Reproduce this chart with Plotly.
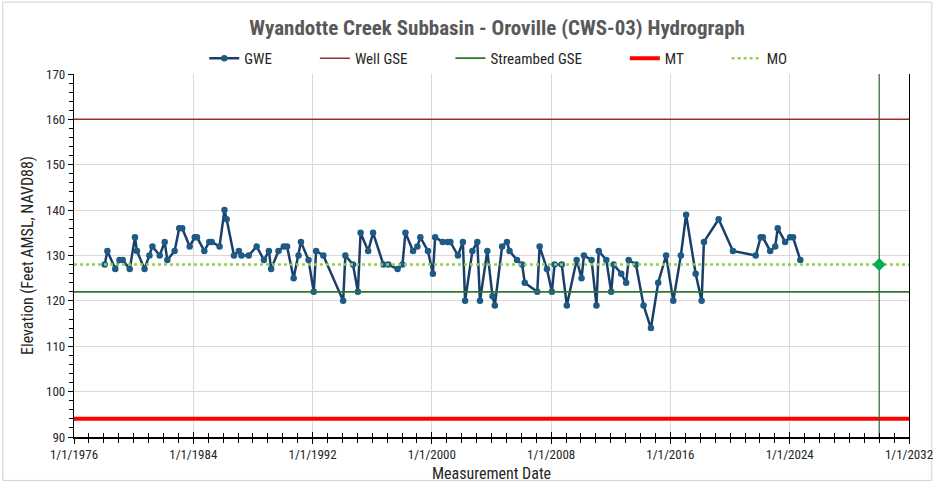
import plotly.graph_objects as go

# Groundwater elevation measurements (ft AMSL, NAVD88)
gwe_dates = [
    "1978-01-22", "1978-03-28", "1978-10-08", "1979-01-19", "1979-04-08", "1979-09-27",
    "1980-02-03", "1980-03-22", "1980-09-24", "1981-01-22", "1981-04-05", "1981-10-01",
    "1982-01-30", "1982-04-05", "1982-10-01", "1983-01-22", "1983-04-05", "1983-10-05",
    "1984-02-06", "1984-04-01", "1984-09-27", "1985-01-26", "1985-03-28", "1985-10-05",
    "1986-02-03", "1986-03-28", "1986-09-24", "1987-01-22", "1987-03-25", "1987-09-20",
    "1988-04-01", "1988-09-27", "1989-01-26", "1989-03-22", "1989-09-17", "1990-01-26",
    "1990-04-16", "1990-09-24", "1991-01-22", "1991-03-22", "1991-09-24", "1992-01-30",
    "1992-03-28", "1992-09-20", "1994-01-19", "1994-03-14", "1994-09-17", "1995-01-15",
    "1995-03-22", "1995-09-24", "1996-01-22", "1996-10-01", "1997-01-30", "1997-09-13",
    "1998-01-11", "1998-03-25", "1998-09-27", "1999-01-11", "1999-03-25", "1999-09-27",
    "2000-01-26", "2000-03-22", "2000-09-24", "2001-01-22", "2001-03-28", "2001-10-01",
    "2002-01-30", "2002-03-25", "2002-09-20", "2003-01-19", "2003-03-25", "2003-09-20",
    "2004-01-26", "2004-03-22", "2004-09-17", "2005-01-15", "2005-03-18", "2005-09-17",
    "2006-01-22", "2006-03-25", "2007-01-26", "2007-03-25", "2007-09-20", "2008-01-19",
    "2008-03-25", "2008-09-17", "2009-01-19", "2009-09-17", "2010-01-15", "2010-03-14",
    "2010-09-17", "2011-01-15", "2011-03-11", "2011-09-13", "2012-01-11", "2012-03-11",
    "2012-09-13", "2013-01-11", "2013-03-14", "2013-09-10", "2014-03-14", "2014-09-10",
    "2015-03-07", "2015-09-17", "2016-03-11", "2016-09-13", "2017-01-19", "2017-09-10",
    "2018-02-03", "2018-04-01", "2019-03-28", "2020-03-11", "2021-09-20", "2022-01-19",
    "2022-03-14", "2022-09-10", "2023-01-11", "2023-03-14", "2023-09-10", "2024-01-11",
    "2024-03-22", "2024-09-17",
]
gwe_values = [
    128, 131, 127, 129, 129, 127,
    134, 131, 127, 130, 132, 130,
    133, 129, 131, 136, 136, 132,
    134, 134, 131, 133, 133, 132,
    140, 138, 130, 131, 130, 130,
    132, 129, 131, 127, 131, 132,
    132, 125, 130, 133, 129, 122,
    131, 130, 120, 130, 128, 122,
    135, 131, 135, 128, 128, 127,
    128, 135, 131, 132, 134, 131,
    126, 134, 133, 133, 133, 130,
    133, 120, 131, 133, 120, 131,
    121, 119, 132, 133, 131, 129,
    128, 124, 122, 132, 127, 122,
    128, 128, 119, 129, 125, 130,
    129, 119, 131, 129, 122, 128,
    126, 124, 129, 128, 119, 114,
    124, 130, 120, 130, 139, 126,
    120, 133, 138, 131, 130, 134,
    134, 131, 132, 136, 133, 134,
    134, 129,
]

# Reference elevations (ft)
well_gse = 160
streambed_gse = 122
mt_level = 94
mo_level = 128
target_date = "2030-01-01"

x_start, x_end = "1976-01-01", "2032-01-01"
y_min, y_max = 90, 170

font_family = "Liberation Sans Narrow, Arial Narrow, Roboto Condensed, Roboto, Liberation Sans, sans-serif"
text_grey = "#595959"
pad = "\u00a0" * 11

fig = go.Figure()

fig.add_trace(go.Scatter(
    x=gwe_dates, y=gwe_values, mode="lines+markers",
    name="GWE" + pad,
    line=dict(color="#1b3f6b", width=2.5),
    marker=dict(color="#1d5a85", size=6.5),
))
fig.add_trace(go.Scatter(
    x=[x_start, x_end], y=[well_gse, well_gse], mode="lines",
    name="Well GSE" + pad,
    line=dict(color="#9b2c2c", width=1.5),
))
fig.add_trace(go.Scatter(
    x=[x_start, x_end], y=[streambed_gse, streambed_gse], mode="lines",
    name="Streambed GSE" + pad,
    line=dict(color="#2b7a2b", width=1.8),
))
fig.add_trace(go.Scatter(
    x=[x_start, x_end], y=[mt_level, mt_level], mode="lines",
    name="MT" + pad,
    line=dict(color="#ff0000", width=4),
))
fig.add_trace(go.Scatter(
    x=[x_start, x_end], y=[mo_level, mo_level], mode="lines",
    name="MO",
    line=dict(color="#92d050", width=2.5, dash="dot"),
))
# Target-year marker and vertical reference line
fig.add_trace(go.Scatter(
    x=[target_date, target_date], y=[y_min, y_max], mode="lines",
    line=dict(color="#2f5f2f", width=1.2), showlegend=False, hoverinfo="skip",
))
fig.add_trace(go.Scatter(
    x=[target_date], y=[mo_level], mode="markers",
    marker=dict(color="#00b050", symbol="diamond", size=10),
    showlegend=False,
))
# Invisible companion trace on the overlay axis that carries the inner tick marks
fig.add_trace(go.Scatter(
    x=[x_start, x_end], y=[y_min, y_min], mode="lines", xaxis="x2",
    line=dict(width=0), showlegend=False, hoverinfo="skip",
))

fig.update_layout(
    width=945, height=492,
    margin=dict(l=74, r=27, t=74, b=50),
    paper_bgcolor="white", plot_bgcolor="white",
    font=dict(family=font_family, size=13, color=text_grey),
    title=dict(
        text="<b>Wyandotte Creek Subbasin - Oroville (CWS-03) Hydrograph</b>",
        x=0.526, xanchor="center", y=1 - 28 / 492, yanchor="middle",
        font=dict(size=21, color=text_grey, family=font_family),
    ),
    legend=dict(
        orientation="h", x=0.156, xanchor="left", y=1.043, yanchor="middle",
        font=dict(size=15, color="#262626", family=font_family),
        bgcolor="rgba(0,0,0,0)", itemwidth=30,
    ),
    showlegend=True,
    shapes=[
        dict(type="rect", xref="paper", yref="paper",
             x0=-0.0853, x1=1.0273, y0=-0.1196, y1=1.198,
             line=dict(color="#d0d0d0", width=1), layer="below"),
    ],
    xaxis=dict(
        type="date", range=[x_start, x_end],
        dtick="M96", tick0="1976-01-01", tickformat="%-m/%-d/%Y",
        showgrid=True, gridcolor="#d9d9d9", gridwidth=1,
        showline=True, linecolor="black", linewidth=1.5,
        ticks="outside", ticklen=5, tickcolor="black",
        minor=dict(dtick="M12", tick0="1976-01-01", ticks="outside", ticklen=4,
                   tickcolor="black", showgrid=False),
        tickfont=dict(size=13, color="#262626"),
        title=dict(text="Measurement Date", font=dict(size=16, color="#262626"), standoff=6),
        zeroline=False,
    ),
    xaxis2=dict(
        type="date", range=[x_start, x_end], overlaying="x", side="bottom",
        anchor="y", matches="x",
        dtick="M96", tick0="1976-01-01", showticklabels=False,
        ticks="inside", ticklen=5, tickcolor="black", showgrid=False,
        showline=False, zeroline=False,
        minor=dict(dtick="M12", tick0="1976-01-01", ticks="inside", ticklen=4,
                   tickcolor="black", showgrid=False),
    ),
    yaxis=dict(
        range=[y_min, y_max], dtick=10,
        showgrid=True, gridcolor="#d9d9d9", gridwidth=1,
        showline=True, linecolor="black", linewidth=1.2, mirror=True,
        ticks="outside", ticklen=5, tickcolor="black",
        minor=dict(dtick=2, ticks="outside", ticklen=4, tickcolor="black", showgrid=False),
        tickfont=dict(size=13, color="#262626"),
        title=dict(text="Elevation (Feet AMSL, NAVD88)", font=dict(size=16, color="#262626"), standoff=8),
        zeroline=False,
    ),
)

fig.write_html("out.html")
